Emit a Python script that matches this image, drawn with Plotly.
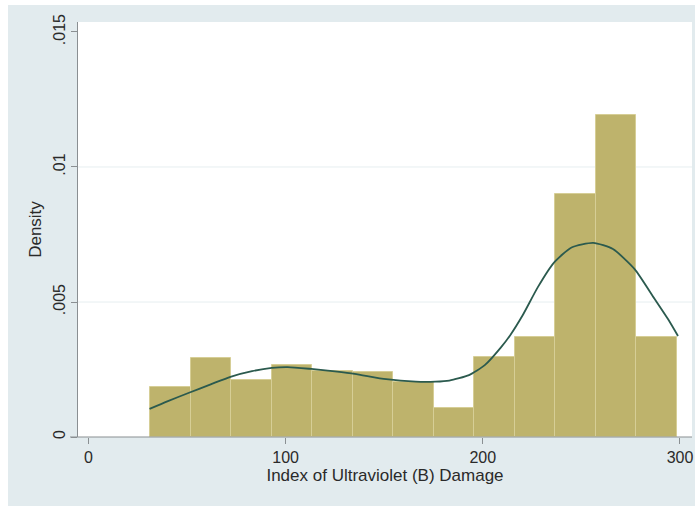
import plotly.graph_objects as go

# Histogram of the UV-B damage index (density scale) with a kernel density overlay
bin_start = 31.2
bin_width = 20.56
bar_density = [0.00185, 0.00293, 0.00212, 0.00267, 0.00245, 0.00240, 0.00205,
               0.00108, 0.00295, 0.00372, 0.00900, 0.01193, 0.00370]

# Kernel density estimate
kde_x = [31, 40, 51, 62, 72, 83, 93, 101, 113, 125, 135, 151, 166, 176, 183,
         193, 201, 209, 214, 220, 228, 236, 245, 256, 266, 277, 287, 294, 299]
kde_y = [0.00104, 0.00132, 0.00164, 0.00195, 0.00223, 0.00244, 0.00256, 0.00259,
         0.00252, 0.00243, 0.00234, 0.00214, 0.00205, 0.00205, 0.00209, 0.00229,
         0.00266, 0.00330, 0.00378, 0.00448, 0.00556, 0.00645, 0.00702, 0.00719,
         0.00696, 0.00622, 0.00513, 0.00436, 0.00374]

x_ticks = [0, 100, 200, 300]
x_tick_text = ["0", "100", "200", "300"]
y_ticks = [0, 0.005, 0.01, 0.015]
y_tick_text = ["0", ".005", ".01", ".015"]
grid_levels = [0.005, 0.01]

x_title = "Index of Ultraviolet (B) Damage"
y_title = "Density"

FONT = "Liberation Sans, Arial, Helvetica, sans-serif"
REGION = "#e2ebee"
BAR = "rgb(190,179,108)"
BAR_EDGE = "rgb(214,206,150)"
LINE = "#2b5a4e"
AXIS = "#8a8f92"

bar_centers = [bin_start + bin_width * (i + 0.5) for i in range(len(bar_density))]

fig = go.Figure()
fig.add_trace(go.Bar(
    x=bar_centers, y=bar_density, width=bin_width,
    marker=dict(color=BAR, line=dict(color=BAR_EDGE, width=1)),
    hoverinfo="skip", showlegend=False,
))
fig.add_trace(go.Scatter(
    x=kde_x, y=kde_y, mode="lines",
    line=dict(color=LINE, width=1.8, shape="spline", smoothing=0.6),
    hoverinfo="skip", showlegend=False,
))

# Faint horizontal grid lines
for g in grid_levels:
    fig.add_shape(type="line", xref="paper", yref="y", x0=0, x1=1, y0=g, y1=g,
                  line=dict(color="#e6eef0", width=1), layer="below")

# White page margins around the graph region
W, H = 700, 506
ml, mr, mt, mb = 78, 8, 22, 69
pw, ph = W - ml - mr, H - mt - mb


def px_x(p):
    return (p - ml) / pw


def px_y(p):
    return (H - mb - p) / ph


for x0, x1, y0, y1 in [(0, 8, 0, H), (695, W, 0, H), (0, W, 0, 5)]:
    fig.add_shape(type="rect", xref="paper", yref="paper",
                  x0=px_x(x0), x1=px_x(x1), y0=px_y(y1), y1=px_y(y0),
                  fillcolor="white", line=dict(width=0), layer="below")

# x-axis line running slightly past the y axis
fig.add_shape(type="line", xref="paper", yref="paper",
              x0=px_x(70), x1=1, y0=0, y1=0,
              line=dict(color=AXIS, width=1.2), layer="above")

fig.update_layout(
    width=W, height=H,
    margin=dict(l=ml, r=mr, t=mt, b=mb, pad=0),
    paper_bgcolor=REGION, plot_bgcolor="white",
    bargap=0, showlegend=False,
    font=dict(family=FONT, color="#2a2a2a"),
)
fig.update_xaxes(
    range=[-5.3, 306.1], tickvals=x_ticks, ticktext=x_tick_text,
    ticks="outside", ticklen=6, tickcolor=AXIS, tickwidth=1,
    showgrid=False, zeroline=False, showline=False,
    tickfont=dict(size=16),
    title=dict(text=x_title, font=dict(size=17), standoff=2),
)
fig.update_yaxes(
    range=[0, 0.01537], tickvals=y_ticks, ticktext=y_tick_text,
    tickangle=-90, ticks="outside", ticklen=6, tickcolor=AXIS, tickwidth=1,
    showgrid=False, zeroline=False, showline=True, linecolor=AXIS, linewidth=1.2,
    tickfont=dict(size=16),
    title=dict(text=y_title, font=dict(size=17), standoff=4),
)

fig.write_html("out.html")
